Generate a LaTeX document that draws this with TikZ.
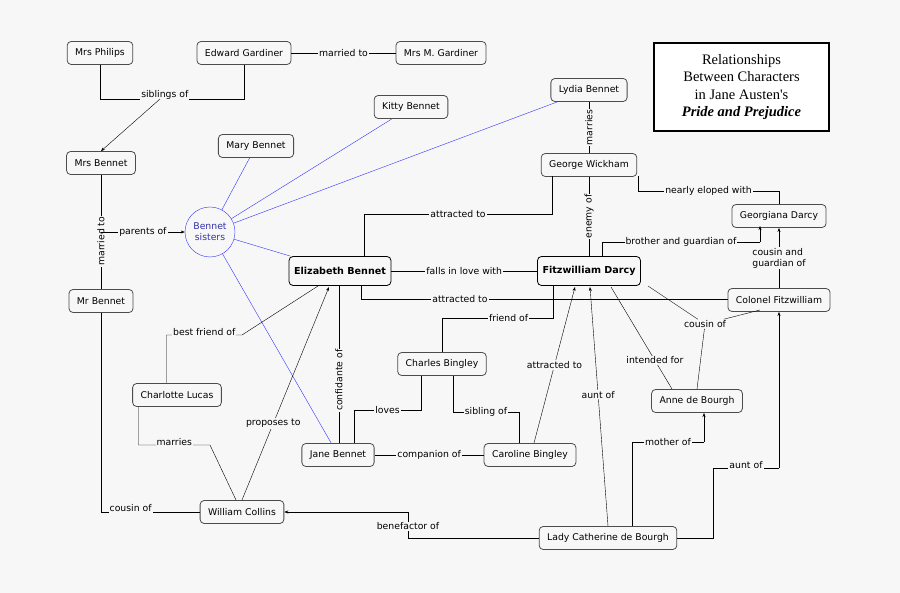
\documentclass[tikz,border=0pt]{standalone}
\usepackage{fontspec}
\setmainfont{DejaVu Sans}
\newfontfamily\titlefont{Liberation Serif}
\usetikzlibrary{arrows.meta}
\definecolor{bgc}{HTML}{F7F7F7}
\definecolor{sisblue}{HTML}{3333FF}
\begin{document}
\begin{tikzpicture}
		[x=1pt, y=-1pt, font=\fontsize{9.3}{11}\selectfont,
		person/.style={draw=black!70, rounded corners=4pt, fill=bgc, minimum height=23pt, inner xsep=8pt, thick},
		main/.style={person, font=\fontsize{9.6}{11}\selectfont\bfseries, minimum height=29pt, draw=black, inner xsep=5pt},
		lab/.style={fill=bgc, inner sep=1pt},
		rel/.style={draw=black},
		arr/.style={rel, -{Stealth[length=4pt,width=3pt]}},
		sis/.style={draw=sisblue},
		]
		\fill[bgc] (0,0) rectangle (900,593);
		\useasboundingbox (0,0) rectangle (900,593);

		% persons
		\node[person] (philips) at (100,53) {Mrs Philips};
		\node[person] (edward) at (244,53) {Edward Gardiner};
		\node[person] (mgard) at (441,53) {Mrs M. Gardiner};
		\node[person] (mrsb) at (101,163) {Mrs Bennet};
		\node[person] (mrb) at (101,301) {Mr Bennet};
		\node[person] (mary) at (256,146) {Mary Bennet};
		\node[person] (kitty) at (411,107) {Kitty Bennet};
		\node[person] (lydia) at (589,90) {Lydia Bennet};
		\node[person] (wick) at (589,165) {George Wickham};
		\node[person] (georg) at (779,216) {Georgiana Darcy};
		\node[circle, draw=sisblue, fill=bgc, text=blue!60!black!80, align=center, minimum size=50pt, inner sep=0pt] (sisters) at (210,232) {Bennet\\sisters};
		\node[main] (eliz) at (340,271) {Elizabeth Bennet};
		\node[main] (darcy) at (589,271) {Fitzwilliam Darcy};
		\node[person] (colonel) at (779,300) {Colonel Fitzwilliam};
		\node[person] (charles) at (442,364) {Charles Bingley};
		\node[person] (charlotte) at (177,395) {Charlotte Lucas};
		\node[person] (jane) at (338,455) {Jane Bennet};
		\node[person] (caroline) at (530,455) {Caroline Bingley};
		\node[person] (anne) at (697,401) {Anne de Bourgh};
		\node[person] (collins) at (242,512) {William Collins};
		\node[person] (lady) at (608,538) {Lady Catherine de Bourgh};
		\node[draw, line width=2pt, fill=white, font=\titlefont\fontsize{14.5}{17.5}\selectfont, align=center, minimum width=175pt, minimum height=88pt, inner sep=1pt] (title) at (741.5,87) {Relationships\\Between Characters\\in Jane Austen's\\\textbf{\textit{Pride and Prejudice}}};

		% family
		\draw[rel] (philips.south) -- (100,99) -- node[lab, pos=0.45, above=-2pt] {siblings of} (244,99) -- (edward.south);
		\draw[arr] (160,99) -- (mrsb.north);
		\draw[rel] (edward) -- node[lab] {married to} (mgard);
		\draw[rel] (mrsb) -- node[lab, rotate=90, pos=0.58] {married to} (mrb);
		\draw[arr] (101,232) -- node[lab] {parents of} (sisters);
		\draw[rel] (mrb.south) -- (101,512) -- node[lab, pos=0.3, above=-1pt] {cousin of} (collins.west);

		% sisters
		\foreach \s in {mary,kitty,lydia,eliz,jane}
			\draw[sis] (sisters) -- (\s);

		% Elizabeth and Darcy
		\draw[rel] (364,257) -- (364,214) -- node[lab] {attracted to} (552,214) -- (552,176);
		\draw[rel] (eliz) -- node[lab] {falls in love with} (darcy);
		\draw[rel] (361,286) -- (361,299) -- node[lab, pos=0.27] {attracted to} (colonel.west |- 0,299);
		\draw[rel] (lydia) -- node[lab, rotate=90] {marries} (wick);
		\draw[rel] (wick) -- node[lab, rotate=90] {enemy of} (darcy);
		\draw[rel] (638,176) -- (638,191) -- node[lab, pos=0.5] {nearly eloped with} (779,191) -- (georg.north);
		\draw[rel] (602,257) -- (602,242) -- node[lab, pos=0.5] {brother and guardian of} (760,242);
		\draw[arr] (760,242) -- (760,226);
		\draw[arr] (colonel.north) -- node[lab, align=left] {cousin and\\guardian of} (georg.south);
		\node[lab] (cousinof) at (705,324) {cousin of};
		\draw[rel] (648,286) -- (cousinof);
		\draw[rel] (cousinof) -- (760,310);
		\draw[rel] (anne.north) -- (cousinof);
		\draw[rel] (553,286) -- (553,318) -- node[lab, pos=0.4] {friend of} (442,318) -- (charles.north);
		\draw[arr] (534,443) -- node[lab] {attracted to} (575,287);
		\draw[arr] (608,526) -- node[lab, pos=0.55] {aunt of} (590,287);
		\draw[rel] (611,287) -- node[lab, pos=0.72] {intended for} (672,389);

		% Lady Catherine
		\draw[rel] (632,526) -- (632,442) -- node[lab] {mother of} (704,442);
		\draw[arr] (704,442) -- (704,413);
		\draw[rel] (lady.east) -- (713,538) -- (713,468) -- node[lab, above=-2pt] {aunt of} (779,468);
		\draw[arr] (779,468) -- (colonel.south);
		\draw[rel] (lady.west) -- (408,538) -- node[lab, pos=0.45] {benefactor of} (408,512);
		\draw[arr] (408,512) -- (collins.east);

		% Bingleys and Jane
		\draw[rel] (421,376) -- (421,410) -- node[lab] {loves} (354,410) -- (354,443);
		\draw[rel] (453,376) -- (453,412) -- node[lab] {sibling of} (519,412) -- (519,443);
		\draw[rel] (jane) -- node[lab] {companion of} (caroline);
		\draw[rel] (339,443) -- node[lab, rotate=90, pos=0.4] {confidante of} (339,286);

		% Charlotte and Collins
		\draw[rel] (166.5,383) -- (166.5,335) -- node[lab, above=-2pt] {best friend of} (242,335) -- (318,286);
		\draw[rel] (138.5,407) -- (138.5,445) -- node[lab, above=-2pt] {marries} (210,445) -- (236,500);
		\draw[arr] (242,500) -- node[lab, pos=0.36] {proposes to} (329,287);
	\end{tikzpicture}
\end{document}
